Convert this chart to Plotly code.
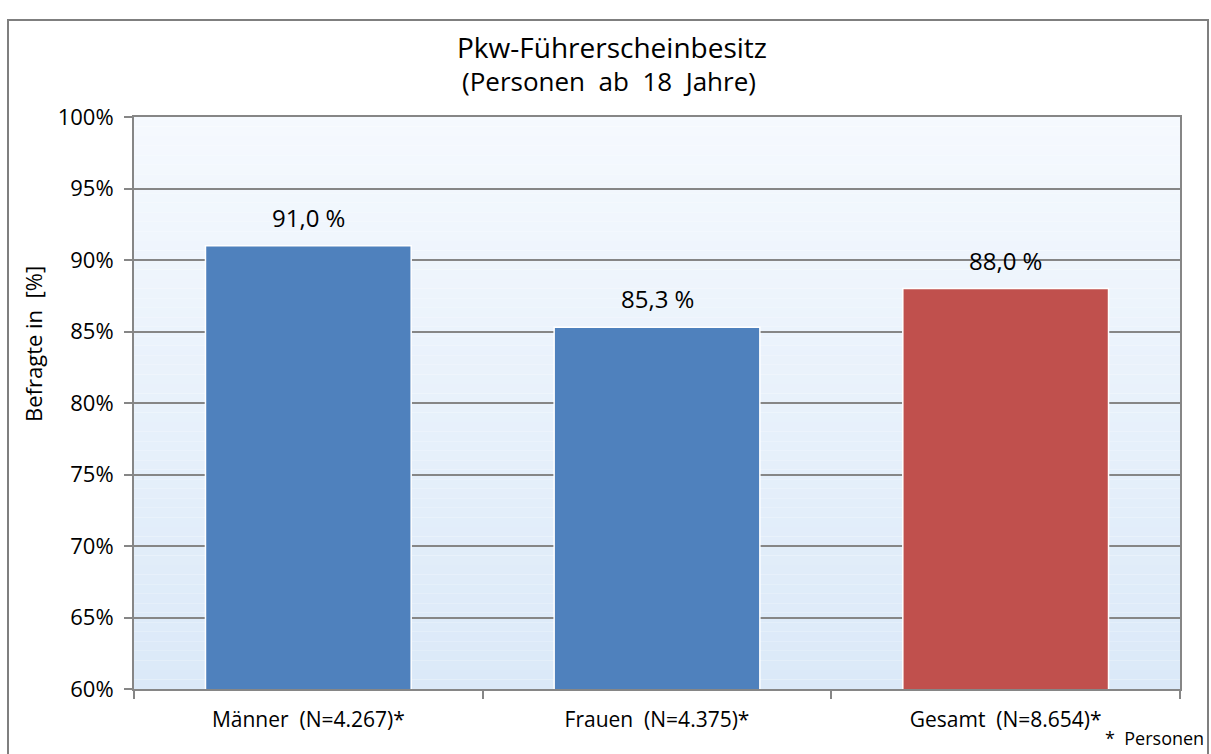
import plotly.graph_objects as go

categories = ["Männer  (N=4.267)*", "Frauen  (N=4.375)*", "Gesamt  (N=8.654)*"]
values = [91.0, 85.3, 88.0]
bar_colors = ["#4f81bd", "#4f81bd", "#c0504d"]
y_ticks = [60, 65, 70, 75, 80, 85, 90, 95, 100]
y_tick_labels = [f"{t}%" for t in y_ticks]

labels = [f"{v:.1f}".replace(".", ",") + " %" for v in values]

FONT = "Open Sans"
W, H = 1211, 754
L, R, T, B = 134, 31, 117, 65
pw = W - L - R
ph = H - T - B

def px(x):
    return (x - L) / pw

def py(y):
    return (H - B - y) / ph

fig = go.Figure()
fig.add_trace(go.Bar(
    x=categories, y=values,
    marker=dict(color=bar_colors, line=dict(color="#ffffff", width=1.5)),
    width=0.59, hoverinfo="x+y",
))

# gradient plot background
shapes = []
n = 60
top = (245, 249, 254)
bot = (219, 233, 248)
for i in range(n):
    f = i / (n - 1)
    c = tuple(round(top[k] + (bot[k] - top[k]) * f) for k in range(3))
    shapes.append(dict(type="rect", xref="x domain", yref="y domain",
                       x0=0, x1=1, y0=1 - (i + 1) / n, y1=1 - i / n,
                       fillcolor=f"rgb{c}", line=dict(width=0), layer="below"))
# outer frame
shapes.append(dict(type="rect", xref="paper", yref="paper",
                   x0=px(8), x1=px(1208), y0=py(770), y1=py(20),
                   line=dict(color="#7f7f7f", width=2), fillcolor="rgba(0,0,0,0)",
                   layer="above"))

annotations = [
    dict(text="Pkw-Führerscheinbesitz", x=px(612), y=py(47), xref="paper", yref="paper",
         xanchor="center", yanchor="middle",
         showarrow=False, font=dict(family=FONT, size=28, color="#000000")),
    dict(text="(Personen  ab  18  Jahre)", x=px(609), y=py(81), xref="paper", yref="paper",
         xanchor="center", yanchor="middle",
         showarrow=False, font=dict(family=FONT, size=26, color="#000000")),
    dict(text="Befragte in  [%]", x=px(33), y=py(344), xref="paper", yref="paper",
         xanchor="center", yanchor="middle",
         showarrow=False, textangle=-90, font=dict(family=FONT, size=22, color="#000000")),
    dict(text="*  Personen", x=px(1206), y=py(738), xref="paper", yref="paper",
         xanchor="right", yanchor="middle",
         showarrow=False, font=dict(family=FONT, size=18, color="#000000")),
]
for cat, v, lab in zip(categories, values, labels):
    annotations.append(dict(text=lab, x=cat, y=v, xref="x", yref="y",
                            xanchor="center", yanchor="bottom", yshift=10,
                            showarrow=False,
                            font=dict(family=FONT, size=24, color="#000000")))

fig.update_layout(
    width=W, height=H,
    margin=dict(l=L, r=R, t=T, b=B),
    paper_bgcolor="#ffffff", plot_bgcolor="rgba(0,0,0,0)",
    showlegend=False, shapes=shapes, annotations=annotations,
    font=dict(family=FONT, color="#000000"),
)
fig.update_yaxes(
    range=[60, 100], tickvals=y_ticks, ticktext=y_tick_labels,
    showgrid=True, gridcolor="#868686", gridwidth=2,
    showline=True, linecolor="#868686", linewidth=2, mirror=True,
    ticks="outside", ticklen=8, tickcolor="#868686", tickwidth=2,
    tickfont=dict(family=FONT, size=22, color="#000000"), zeroline=False,
    ticklabelstandoff=6,
)
fig.update_xaxes(
    showgrid=False, showline=True, linecolor="#868686", linewidth=2, mirror=True,
    ticks="outside", tickson="boundaries", ticklen=8, tickcolor="#868686", tickwidth=1.5,
    tickfont=dict(family=FONT, size=21, color="#000000"), ticklabelstandoff=11,
)

fig.write_html("out.html", config={"displayModeBar": False},
               post_script="document.body.style.margin='0';")
